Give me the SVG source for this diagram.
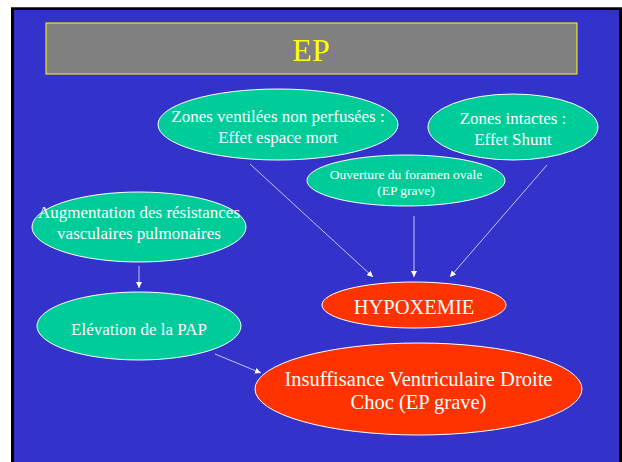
<svg xmlns="http://www.w3.org/2000/svg" width="622" height="462" viewBox="0 0 622 462">
<defs>
<marker id="ah" viewBox="0 0 10 10" refX="10" refY="5" markerWidth="6" markerHeight="6" markerUnits="userSpaceOnUse" orient="auto">
<path d="M0,0 L10,5 L0,10 z" fill="#ffffff"/>
</marker>
</defs>
<style>
.g{fill:#00CC99;stroke:#ffffff;stroke-width:1}
.r{fill:#FF3300;stroke:#ffffff;stroke-width:1}
text{font-family:"Liberation Serif","Times New Roman",serif;fill:#ffffff;text-anchor:middle}
.c line{stroke:#e8e8ff;stroke-width:0.8;marker-end:url(#ah)}
</style>
<rect x="0" y="0" width="622" height="462" fill="#ffffff"/>
<rect x="11" y="7" width="611" height="455" fill="#000000"/>
<rect x="11" y="7" width="611" height="1" fill="#3333CC"/>
<rect x="14" y="10" width="605" height="452" fill="#3333CC"/>
<g id="title">
<rect x="46" y="23" width="531" height="51" fill="#808080" stroke="#FFFF00" stroke-width="1"/>
<text x="311" y="61" font-size="32" style="fill:#FFFF00">EP</text>
</g>
<g class="c" id="connectors">
<line x1="139" y1="266" x2="139" y2="288"/>
<line x1="250" y1="164" x2="373" y2="277"/>
<line x1="414" y1="216" x2="414" y2="277"/>
<line x1="547" y1="165" x2="450" y2="277"/>
<line x1="215" y1="354" x2="261" y2="373"/>
</g>
<g id="n1">
<ellipse class="g" cx="278" cy="124.5" rx="120" ry="35.5"/>
<text x="278" y="122" font-size="17">Zones ventilées non perfusées :</text>
<text x="278" y="143" font-size="17">Effet espace mort</text>
</g>
<g id="n2">
<ellipse class="g" cx="513" cy="127" rx="85" ry="33"/>
<text x="513" y="124" font-size="17">Zones intactes :</text>
<text x="513" y="145" font-size="17">Effet Shunt</text>
</g>
<g id="n3">
<ellipse class="g" cx="406" cy="180.5" rx="99" ry="25.5"/>
<text x="406" y="178.5" font-size="13.5">Ouverture du foramen ovale</text>
<text x="406" y="194.5" font-size="13.5">(EP grave)</text>
</g>
<g id="n4">
<ellipse class="g" cx="139" cy="227" rx="107" ry="35"/>
<text x="139" y="218" font-size="17">Augmentation des résistances</text>
<text x="139" y="239" font-size="17">vasculaires pulmonaires</text>
</g>
<g id="n5">
<ellipse class="g" cx="139" cy="326" rx="102" ry="34"/>
<text x="139" y="335" font-size="17">Elévation de la PAP</text>
</g>
<g id="n6">
<ellipse class="r" cx="414" cy="305" rx="92" ry="23"/>
<text x="414" y="314" font-size="20.5">HYPOXEMIE</text>
</g>
<g id="n7">
<ellipse class="r" cx="418.5" cy="389" rx="163.5" ry="46"/>
<text x="418.5" y="386" font-size="20.5">Insuffisance Ventriculaire Droite</text>
<text x="418.5" y="409" font-size="20.5">Choc (EP grave)</text>
</g>
</svg>
